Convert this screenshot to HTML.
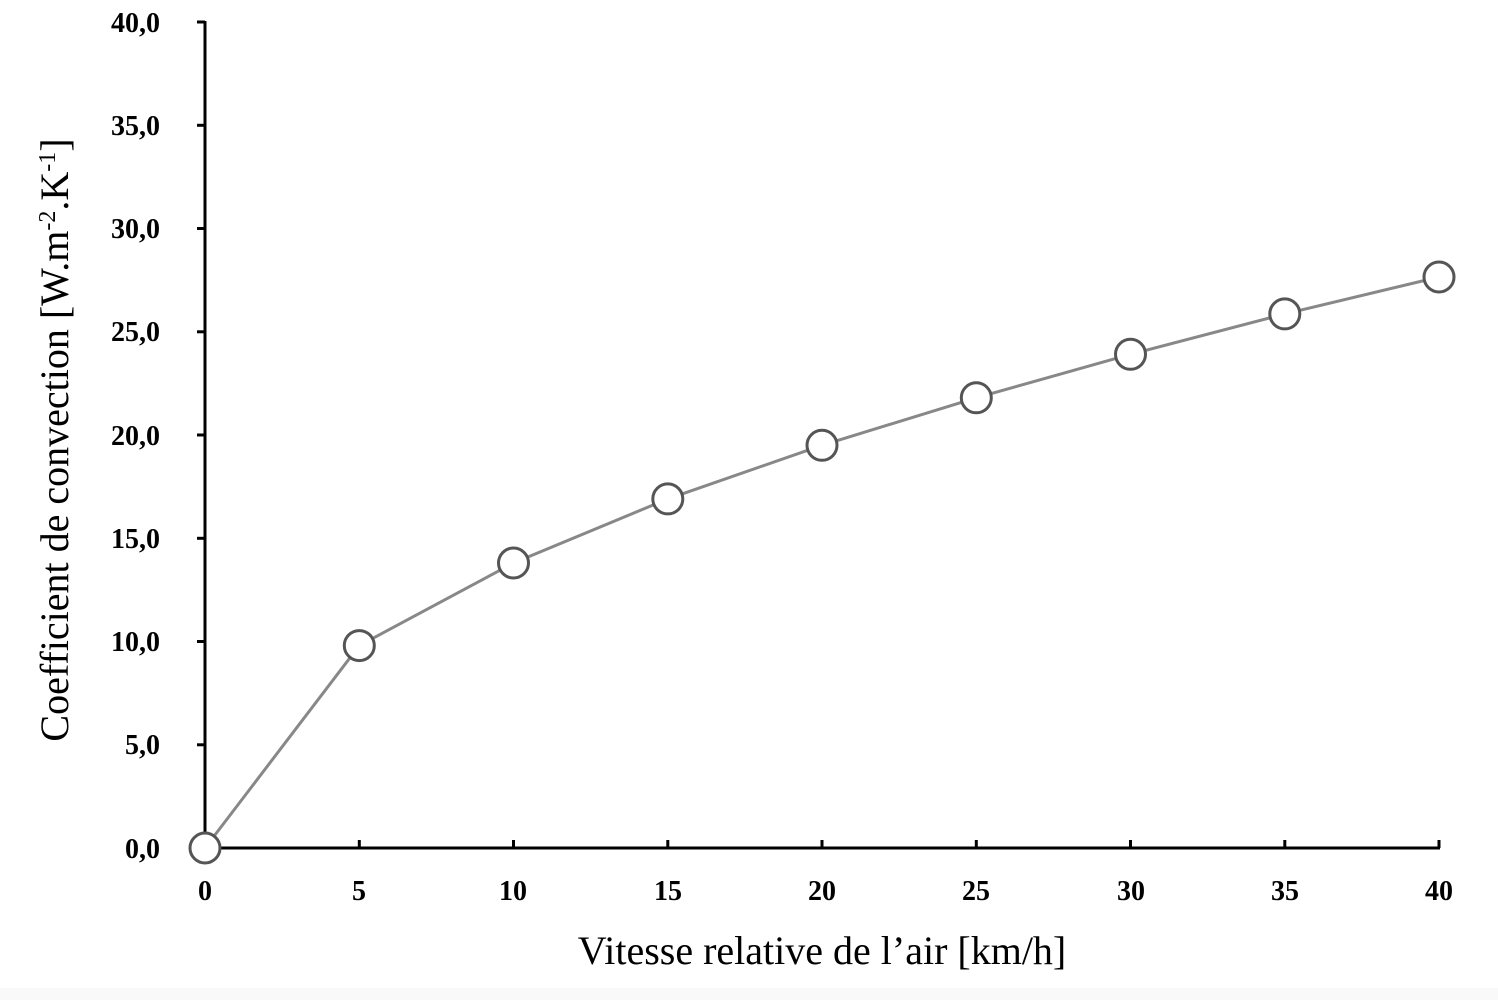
<!DOCTYPE html>
<html><head><meta charset="utf-8"><style>
body{margin:0;background:#fff}
svg text{font-family:"Liberation Serif",serif;fill:#000}
</style></head><body>
<svg width="1498" height="1000" xmlns="http://www.w3.org/2000/svg">
<rect x="0" y="988" width="1498" height="12" fill="#f9f9f9"/>
<g stroke="#000" stroke-width="3" fill="none">
<line x1="205" y1="21" x2="205" y2="849"/>
<line x1="204" y1="848" x2="1440" y2="848"/>
<line x1="197" y1="22" x2="205" y2="22"/>
<line x1="197" y1="125.3" x2="205" y2="125.3"/>
<line x1="197" y1="228.5" x2="205" y2="228.5"/>
<line x1="197" y1="331.8" x2="205" y2="331.8"/>
<line x1="197" y1="435" x2="205" y2="435"/>
<line x1="197" y1="538.3" x2="205" y2="538.3"/>
<line x1="197" y1="641.5" x2="205" y2="641.5"/>
<line x1="197" y1="744.8" x2="205" y2="744.8"/>
<line x1="197" y1="848" x2="205" y2="848"/>
<line x1="359.3" y1="848" x2="359.3" y2="840"/>
<line x1="513.5" y1="848" x2="513.5" y2="840"/>
<line x1="667.8" y1="848" x2="667.8" y2="840"/>
<line x1="822" y1="848" x2="822" y2="840"/>
<line x1="976.3" y1="848" x2="976.3" y2="840"/>
<line x1="1130.5" y1="848" x2="1130.5" y2="840"/>
<line x1="1284.8" y1="848" x2="1284.8" y2="840"/>
<line x1="1439" y1="848" x2="1439" y2="840"/>
</g>
<g font-size="28" text-anchor="end" font-weight="bold">
<text x="160" y="32">40,0</text>
<text x="160" y="135">35,0</text>
<text x="160" y="238">30,0</text>
<text x="160" y="341">25,0</text>
<text x="160" y="445">20,0</text>
<text x="160" y="548">15,0</text>
<text x="160" y="651">10,0</text>
<text x="160" y="754">5,0</text>
<text x="160" y="858">0,0</text>
</g>
<g font-size="28" text-anchor="middle" font-weight="bold">
<text x="205" y="900">0</text>
<text x="359" y="900">5</text>
<text x="513" y="900">10</text>
<text x="668" y="900">15</text>
<text x="822" y="900">20</text>
<text x="976" y="900">25</text>
<text x="1131" y="900">30</text>
<text x="1285" y="900">35</text>
<text x="1439" y="900">40</text>
</g>
<text x="822" y="964" font-size="40" text-anchor="middle">Vitesse relative de l’air [km/h]</text>
<text transform="translate(68,440) rotate(-90)" font-size="40" text-anchor="middle">Coefficient de convection [W.m<tspan font-size="24" dy="-13">-2</tspan><tspan dy="13">.K</tspan><tspan font-size="24" dy="-13">-1</tspan><tspan dy="13">]</tspan></text>
<polyline fill="none" stroke="#888" stroke-width="3" points="205,848 359.3,645.6 513.5,563 667.8,498.9 822,445.3 976.3,397.8 1130.5,354.3 1284.8,313.9 1439,277"/>
<g fill="#fff" stroke="#555" stroke-width="3">
<circle cx="205" cy="848" r="15"/>
<circle cx="359.3" cy="645.6" r="15"/>
<circle cx="513.5" cy="563" r="15"/>
<circle cx="667.8" cy="498.9" r="15"/>
<circle cx="822" cy="445.3" r="15"/>
<circle cx="976.3" cy="397.8" r="15"/>
<circle cx="1130.5" cy="354.3" r="15"/>
<circle cx="1284.8" cy="313.9" r="15"/>
<circle cx="1439" cy="277" r="15"/>
</g>
</svg>
</body></html>
